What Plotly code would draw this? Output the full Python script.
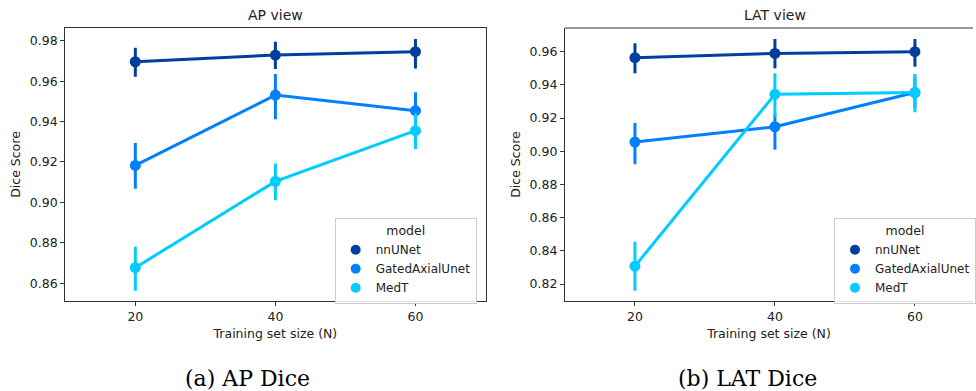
import plotly.graph_objects as go

# ---------------- data ----------------
sizes = [20, 40, 60]
models = ["nnUNet", "GatedAxialUnet", "MedT"]
colors = ["#003F9E", "#0080FF", "#00CCFF"]

# AP view: mean and CI bounds
ap_nnunet = [0.9696, 0.9729, 0.9746]
ap_nnunet_hi = [0.9765, 0.9795, 0.9808]
ap_nnunet_lo = [0.9622, 0.9660, 0.9663]

ap_gated = [0.9183, 0.9531, 0.9454]
ap_gated_hi = [0.9294, 0.9635, 0.9545]
ap_gated_lo = [0.9068, 0.9411, 0.9360]

ap_medt = [0.8677, 0.9104, 0.9355]
ap_medt_hi = [0.8781, 0.9192, 0.9441]
ap_medt_lo = [0.8563, 0.9010, 0.9264]

# LAT view
lat_nnunet = [0.9564, 0.9590, 0.9600]
lat_nnunet_hi = [0.9651, 0.9677, 0.9677]
lat_nnunet_lo = [0.9470, 0.9500, 0.9510]

lat_gated = [0.9056, 0.9148, 0.9354]
lat_gated_hi = [0.9171, 0.9228, 0.9450]
lat_gated_lo = [0.8922, 0.9010, 0.9260]

lat_medt = [0.8308, 0.9344, 0.9354]
lat_medt_hi = [0.8455, 0.9470, 0.9466]
lat_medt_lo = [0.8160, 0.9210, 0.9235]

ap_series = [(ap_nnunet, ap_nnunet_hi, ap_nnunet_lo),
             (ap_gated, ap_gated_hi, ap_gated_lo),
             (ap_medt, ap_medt_hi, ap_medt_lo)]
lat_series = [(lat_nnunet, lat_nnunet_hi, lat_nnunet_lo),
              (lat_gated, lat_gated_hi, lat_gated_lo),
              (lat_medt, lat_medt_hi, lat_medt_lo)]

x_ticks = [20, 40, 60]
ap_y_ticks = [0.86, 0.88, 0.90, 0.92, 0.94, 0.96, 0.98]
lat_y_ticks = [0.82, 0.84, 0.86, 0.88, 0.90, 0.92, 0.94, 0.96]

W, H = 976, 391
FONT = "DejaVu Sans"
SPINE = "#333333"
TXT = "#222222"

fig = go.Figure()

def add_series(series, xa, ya, legend):
    for name, col, (m, hi, lo) in zip(models, colors, series):
        fig.add_trace(go.Scatter(
            x=sizes, y=m, mode="lines+markers", name=name,
            xaxis=xa, yaxis=ya, showlegend=False,
            line=dict(color=col, width=3),
            marker=dict(color=col, size=11),
            error_y=dict(type="data", symmetric=False,
                         array=[h - v for h, v in zip(hi, m)],
                         arrayminus=[v - l for v, l in zip(m, lo)],
                         color=col, thickness=3, width=0),
        ))
    for name, col in zip(models, colors):
        fig.add_trace(go.Scatter(
            x=[None], y=[None], mode="markers", name=name,
            xaxis=xa, yaxis=ya, legend=legend, showlegend=True,
            marker=dict(color=col, size=10),
        ))

add_series(ap_series, "x", "y", "legend")
add_series(lat_series, "x2", "y2", "legend2")

y_dom = [1 - 301 / H, 1 - 28 / H]
dom1 = [65.5 / W, 487 / W]
dom2 = [566.7 / W, 1.0]

axis_common = dict(
    showgrid=False, zeroline=False, showline=True, linecolor=SPINE, linewidth=1.2,
    ticks="outside", ticklen=4, tickwidth=1, tickcolor=SPINE,
    tickfont=dict(family=FONT, size=12.5, color=TXT),
    title_font=dict(family=FONT, size=12.5, color=TXT),
)

legend_common = dict(
    xanchor="left", yanchor="top", y=1 - 218 / H,
    bgcolor="rgba(255,255,255,0.85)", bordercolor="#cccccc", borderwidth=1,
    font=dict(family=FONT, size=12, color=TXT),
    title=dict(text="model", side="top center", font=dict(family=FONT, size=12.5, color=TXT)),
    tracegroupgap=0, itemwidth=30,
)

fig.update_layout(
    width=W, height=H, margin=dict(l=0, r=0, t=0, b=0),
    plot_bgcolor="white", paper_bgcolor="white",
    xaxis=dict(domain=dom1, anchor="y", range=[10, 70], tickvals=x_ticks,
               mirror=True, title=dict(text="Training set size (N)", standoff=6),
               **axis_common),
    yaxis=dict(domain=y_dom, anchor="x", range=[0.8512, 0.9863], tickvals=ap_y_ticks,
               tickformat=".2f", mirror=True,
               title=dict(text="Dice Score", standoff=6), **axis_common),
    xaxis2=dict(domain=dom2, anchor="y2", range=[10, 60 + 58.3 / 140.5 * 20],
                tickvals=x_ticks, title=dict(text="Training set size (N)", standoff=6),
                **axis_common),
    yaxis2=dict(domain=y_dom, anchor="x2", range=[0.8098, 0.9743], tickvals=lat_y_ticks,
                tickformat=".2f", title=dict(text="Dice Score", standoff=6), **axis_common),
    legend=dict(x=335.7 / W, **legend_common),
    legend2=dict(x=837 / W, **legend_common),
    shapes=[dict(type="line", xref="paper", yref="paper", x0=dom2[0], x1=1.0,
                 y0=y_dom[1], y1=y_dom[1], line=dict(color=SPINE, width=1.2))],
    annotations=[
        dict(text="AP view", x=(dom1[0] + dom1[1]) / 2, y=1 - 15 / H, xref="paper", yref="paper",
             xanchor="center", yanchor="middle", showarrow=False,
             font=dict(family=FONT, size=14, color=TXT)),
        dict(text="LAT view", x=(566.7 + 987.7) / 2 / W, y=1 - 15 / H, xref="paper", yref="paper",
             xanchor="center", yanchor="middle", showarrow=False,
             font=dict(family=FONT, size=14, color=TXT)),
        dict(text="(a) AP Dice", x=248.5 / W, y=1 - 378 / H, xref="paper", yref="paper",
             xanchor="center", yanchor="middle", showarrow=False,
             font=dict(family="DejaVu Serif", size=22, color="#000000")),
        dict(text="(b) LAT Dice", x=750 / W, y=1 - 378 / H, xref="paper", yref="paper",
             xanchor="center", yanchor="middle", showarrow=False,
             font=dict(family="DejaVu Serif", size=22, color="#000000")),
    ],
)

fig.write_html("out.html", config={"displayModeBar": False},
               post_script="document.body.style.margin='0';")
